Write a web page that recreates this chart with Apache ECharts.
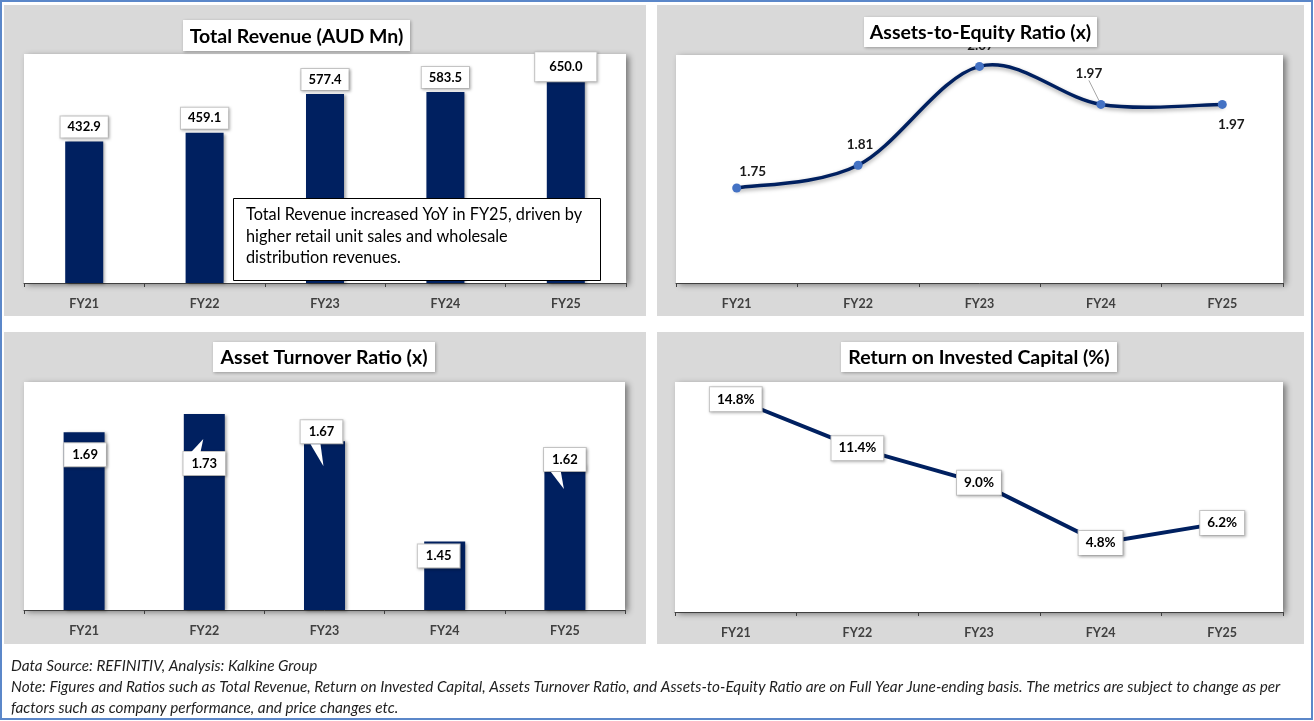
<!DOCTYPE html>
<html><head><meta charset="utf-8">
<script src="https://cdn.jsdelivr.net/npm/echarts@6/dist/echarts.min.js"></script>
<style>html,body{margin:0;padding:0;background:#fff}#c{width:1314px;height:721px}</style>
</head><body><div id="c"></div>
<script>
// ---- data ----
const categories = ['FY21', 'FY22', 'FY23', 'FY24', 'FY25'];
const revenue = [432.9, 459.1, 577.4, 583.5, 650.0];
const assetsToEquity = [1.75, 1.81, 2.07, 1.97, 1.97];
const assetTurnover = [1.69, 1.73, 1.67, 1.45, 1.62];
const roic = [14.8, 11.4, 9.0, 4.8, 6.2];
const chartTitles = ['Total Revenue (AUD Mn)', 'Assets-to-Equity Ratio (x)', 'Asset Turnover Ratio (x)', 'Return on Invested Capital (%)'];
const annotation = ['Total Revenue increased YoY in FY25, driven by', 'higher retail unit sales and wholesale', 'distribution revenues.'];
const footer = [
  'Data Source: REFINITIV, Analysis: Kalkine Group',
  'Note: Figures and Ratios such as Total Revenue, Return on Invested Capital, Assets Turnover Ratio, and Assets-to-Equity Ratio are on Full Year June-ending basis. The metrics are subject to change as per',
  'factors such as company performance, and price changes etc.'
];

// ---- label placement tweaks (styling only) ----
const aeLabelShift = [[16, -16], [2, -21], [1, -21], [-12, -31], [9, 20]];
const atrLabelShift = [[1, 11], [0, 38], [-3, -21], [-6, 3], [0, -16]];
const ATR_BOX_H = 25, ATR_BOX_W = 43, CALLOUT_DROP = 25;

const FONT = 'Lato, "Open Sans", sans-serif';
const NAVY = '#002060';

const chart = echarts.init(document.getElementById('c'), null, {renderer: 'canvas'});

const grids = [
  {left: 24, top: 54, width: 602, height: 229},
  {left: 676, top: 55, width: 607, height: 228},
  {left: 24, top: 382, width: 601, height: 228},
  {left: 675, top: 382, width: 608, height: 230}
].map(g => Object.assign(g, {
  show: true, backgroundColor: '#ffffff', borderWidth: 0,
  shadowBlur: 6, shadowColor: 'rgba(0,0,0,0.45)', shadowOffsetX: 3, shadowOffsetY: 2
}));

function xAx(i) {
  return {
    type: 'category', gridIndex: i, data: categories, boundaryGap: true,
    axisLine: {show: true, lineStyle: {color: '#404040', width: 1}},
    axisTick: {show: true, length: 4, lineStyle: {color: '#404040'}},
    axisLabel: {margin: 14, fontFamily: FONT, fontWeight: 'bold', fontSize: 12.5, color: '#404040'},
    splitLine: {show: false}
  };
}
function yAx(i, min, max) {
  return {type: 'value', gridIndex: i, min: min, max: max, show: false, splitLine: {show: false}};
}

const boxLabel = {
  fontFamily: FONT, fontWeight: 'bold', fontSize: 13, color: '#000',
  backgroundColor: '#fff', borderColor: '#c8c8c8', borderWidth: 1,
  shadowBlur: 3, shadowColor: 'rgba(0,0,0,0.25)', shadowOffsetX: 1, shadowOffsetY: 1
};

const panels = [
  {x: 4, y: 5, w: 642, h: 311},
  {x: 657, y: 5, w: 647, h: 311},
  {x: 4, y: 332, w: 642, h: 312},
  {x: 657, y: 332, w: 647, h: 312}
];
const titleBoxes = [
  {x: 183, y: 20, w: 227, h: 31},
  {x: 864, y: 17, w: 233, h: 30},
  {x: 213, y: 342, w: 222, h: 30},
  {x: 841, y: 342, w: 276, h: 30}
];

const graphics = [];
graphics.push({type: 'rect', z: -20, shape: {x: 1, y: 1, width: 1311, height: 718},
  style: {fill: '#ffffff', stroke: '#5b87c9', lineWidth: 2}});
panels.forEach(p => graphics.push({type: 'rect', z: -10, shape: {x: p.x, y: p.y, width: p.w, height: p.h},
  style: {fill: '#d9d9d9'}}));
titleBoxes.forEach((t, i) => {
  graphics.push({type: 'rect', z: 60, shape: {x: t.x, y: t.y, width: t.w, height: t.h},
    style: {fill: '#ffffff', shadowBlur: 3, shadowColor: 'rgba(0,0,0,0.3)', shadowOffsetX: 1, shadowOffsetY: 1}});
  graphics.push({type: 'text', z: 61, x: t.x + t.w / 2, y: t.y + t.h / 2 + 1,
    style: {text: chartTitles[i], fill: '#000', font: 'bold 19.5px ' + FONT, textAlign: 'center', textVerticalAlign: 'middle'}});
});
graphics.push({type: 'rect', z: 50, shape: {x: 233.5, y: 198.5, width: 367, height: 82},
  style: {fill: '#ffffff', stroke: '#000', lineWidth: 1}});
graphics.push({type: 'text', z: 51, x: 246, y: 204,
  style: {text: annotation.join('\n'), fill: '#000', font: '16.3px ' + FONT, lineHeight: 21.5}});
footer.forEach((t, i) => graphics.push({type: 'text', z: 5, x: 11, y: 666 + i * 21,
  style: {text: t, fill: '#1f1f1f', font: 'italic 15.3px ' + FONT, textVerticalAlign: 'middle'}}));

// Catmull-Rom style smooth curve (Excel-like smoothing) through the data points
function smoothCurve(params, api) {
  if (params.dataIndex !== 0) return null;
  const pts = assetsToEquity.map((v, i) => api.coord([i, v]));
  let d = 'M' + pts[0][0] + ' ' + pts[0][1];
  for (let i = 0; i < pts.length - 1; i++) {
    const p0 = pts[Math.max(0, i - 1)], p1 = pts[i], p2 = pts[i + 1], p3 = pts[Math.min(pts.length - 1, i + 2)];
    const c1 = [p1[0] + (p2[0] - p0[0]) / 6, p1[1] + (p2[1] - p0[1]) / 6];
    const c2 = [p2[0] - (p3[0] - p1[0]) / 6, p2[1] - (p3[1] - p1[1]) / 6];
    d += ' C' + c1[0] + ' ' + c1[1] + ' ' + c2[0] + ' ' + c2[1] + ' ' + p2[0] + ' ' + p2[1];
  }
  return {type: 'path', shape: {pathData: d},
    style: {fill: 'none', stroke: NAVY, lineWidth: 3.5, lineCap: 'round',
      shadowBlur: 4, shadowColor: 'rgba(0,0,0,0.35)', shadowOffsetY: 2}};
}

// callout pointers for the Asset Turnover labels
function callouts(params, api) {
  const i = params.dataIndex;
  const top = api.coord([i, api.value(1)]);
  const cx = top[0] + atrLabelShift[i][0];
  const boxTop = top[1] + atrLabelShift[i][1];
  const boxBot = boxTop + ATR_BOX_H;
  const apex = [top[0] - 1, top[1] + CALLOUT_DROP];
  let edgeY;
  if (apex[1] < boxTop) edgeY = boxTop + 1;
  else if (apex[1] > boxBot) edgeY = boxBot - 1;
  else return null;
  return {type: 'polygon', z2: 100,
    shape: {points: [[apex[0] - 13, edgeY], [apex[0] - 3, edgeY], apex]},
    style: {fill: '#ffffff'}};
}

const option = {
  animation: false,
  grid: grids,
  xAxis: [xAx(0), xAx(1), xAx(2), xAx(3)],
  yAxis: [yAx(0, 0, 700), yAx(1, 1.5, 2.1), yAx(2, 1.3, 1.8), yAx(3, 0, 16)],
  graphic: {elements: graphics},
  series: [
    {
      type: 'bar', xAxisIndex: 0, yAxisIndex: 0, barWidth: 38,
      itemStyle: {color: NAVY, shadowBlur: 3, shadowColor: 'rgba(0,0,0,0.35)', shadowOffsetX: 2, shadowOffsetY: 1},
      label: Object.assign({show: true, position: 'top', distance: 4, padding: [4, 7],
        formatter: p => Number(p.value).toFixed(1)}, boxLabel),
      data: revenue.map((v, i) => i === 4
        ? {value: v, label: {distance: -11, padding: [8, 14]}}
        : v)
    },
    {
      type: 'custom', xAxisIndex: 1, yAxisIndex: 1, renderItem: smoothCurve,
      data: assetsToEquity.map((v, i) => [i, v]), silent: true
    },
    {
      type: 'line', xAxisIndex: 1, yAxisIndex: 1,
      symbol: 'circle', symbolSize: 9,
      itemStyle: {color: '#4472c4'},
      lineStyle: {opacity: 0, width: 0},
      label: {show: true, position: 'inside', fontFamily: FONT, fontSize: 13.5, fontWeight: 'bold', color: '#1a1a1a',
        formatter: p => Number(p.value).toFixed(2)},
      labelLayout: p => ({dx: aeLabelShift[p.dataIndex][0], dy: aeLabelShift[p.dataIndex][1]}),
      data: assetsToEquity.map((v, i) => i === 3
        ? {value: v, labelLine: {show: true, lineStyle: {color: '#a6a6a6', width: 1}}}
        : v)
    },
    {
      type: 'bar', xAxisIndex: 2, yAxisIndex: 2, barWidth: 41,
      itemStyle: {color: NAVY, shadowBlur: 3, shadowColor: 'rgba(0,0,0,0.35)', shadowOffsetX: 2, shadowOffsetY: 1},
      label: Object.assign({show: true, position: 'insideTop', distance: 0, padding: [5, 8],
        formatter: p => Number(p.value).toFixed(2)}, boxLabel),
      data: assetTurnover.map((v, i) => ({value: v, label: {offset: atrLabelShift[i]}}))
    },
    {
      type: 'custom', xAxisIndex: 2, yAxisIndex: 2, renderItem: callouts, z: 3,
      data: assetTurnover.map((v, i) => [i, v]), silent: true
    },
    {
      type: 'line', xAxisIndex: 3, yAxisIndex: 3,
      symbol: 'circle', symbolSize: 2, itemStyle: {color: NAVY},
      lineStyle: {color: NAVY, width: 4},
      label: Object.assign({show: true, position: 'inside', padding: [5, 7],
        formatter: p => Number(p.value).toFixed(1) + '%'}, boxLabel, {fontSize: 13.5}),
      data: roic
    }
  ]
};
chart.setOption(option);
</script></body></html>
